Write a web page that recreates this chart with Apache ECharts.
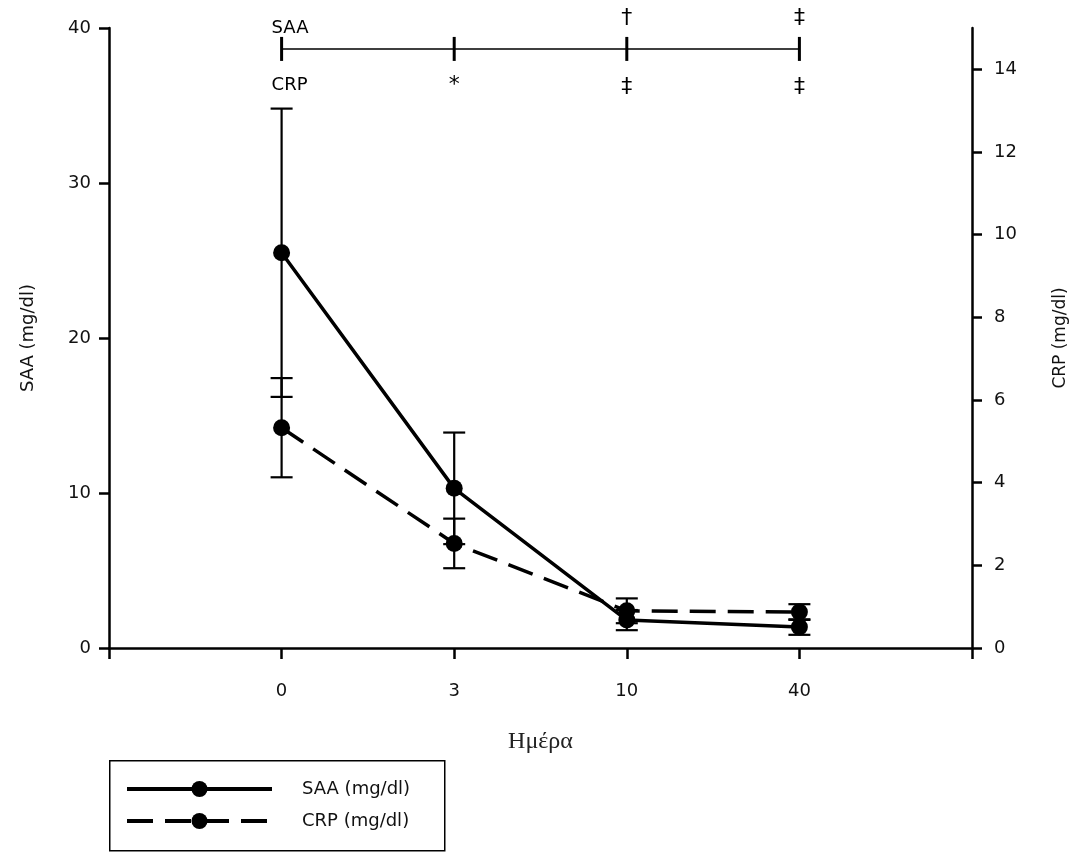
<!DOCTYPE html>
<html>
<head>
<meta charset="utf-8">
<script src="https://cdn.jsdelivr.net/npm/echarts@6/dist/echarts.min.js"></script>
<style>html,body{margin:0;padding:0;background:#fff;}#c{width:1079px;height:852px;}</style>
</head>
<body>
<div id="c"></div>
<script>
// ---- data ----
var dayLabels = ['0', '3', '10', '40'];
var dayPos = [1, 2, 3, 4];
var saaMean = [25.5, 10.3, 1.8, 1.35];
var saaSD = [9.3, 3.6, 0.65, 0.5];
var crpMean = [5.33, 2.53, 0.9, 0.87];
var crpSD = [1.2, 0.6, 0.3, 0.19];
// significance annotations (SAA-axis units)
var sigLineLevel = 38.65;
var annotX = [1, 1, 2, 3, 3, 4, 4];
var annotY = [40.0, 36.3, 36.3, 40.6, 36.2, 40.6, 36.2];
var annotText = ['SAA', 'CRP', '*', '\u2020', '\u2021', '\u2021', '\u2021'];
var seriesNames = ['SAA (mg/dl)', 'CRP (mg/dl)'];

var FONT = 'DejaVu Sans';

function pairs(xs, ys) { return xs.map(function (x, i) { return [x, ys[i]]; }); }
function errData(xs, m, s) { return xs.map(function (x, i) { return [x, m[i] - s[i], m[i] + s[i]]; }); }

function errRender(params, api) {
  var x = api.value(0), lo = api.value(1), hi = api.value(2);
  var p1 = api.coord([x, hi]), p2 = api.coord([x, lo]);
  var w = 11;
  var st = { stroke: '#000', lineWidth: 2.2 };
  return { type: 'group', children: [
    { type: 'line', shape: { x1: p1[0], y1: p1[1], x2: p2[0], y2: p2[1] }, style: st },
    { type: 'line', shape: { x1: p1[0] - w, y1: p1[1], x2: p1[0] + w, y2: p1[1] }, style: st },
    { type: 'line', shape: { x1: p2[0] - w, y1: p2[1], x2: p2[0] + w, y2: p2[1] }, style: st }
  ]};
}

function legendFor(name, top) {
  return {
    left: 125, top: top, orient: 'vertical', data: [name],
    itemWidth: 145, itemHeight: 20, padding: 0,
    lineStyle: { width: 4 },
    textStyle: { fontFamily: FONT, fontSize: 18, color: '#111', padding: [0, 0, 0, 25] }
  };
}

var chart = echarts.init(document.getElementById('c'));
var axisLine = { lineStyle: { color: '#000', width: 2.5 } };
var option = {
  animation: false,
  backgroundColor: '#fff',
  grid: { left: 109, right: 107, top: 28, bottom: 204 },
  graphic: [{
    type: 'rect', left: 109, top: 760, z: -1,
    shape: { width: 335, height: 90 },
    style: { fill: '#fff', stroke: '#000', lineWidth: 1.5 }
  }],
  legend: [legendFor(seriesNames[0], 780), legendFor(seriesNames[1], 812)],
  xAxis: {
    type: 'value', min: 0, max: 5, interval: 1,
    name: 'Ημέρα', nameLocation: 'middle', nameGap: 82,
    nameTextStyle: { fontFamily: 'Liberation Serif', fontSize: 24, color: '#222' },
    axisLine: axisLine,
    axisTick: { show: true, length: 11, lineStyle: { color: '#000', width: 2.5 } },
    axisLabel: { margin: 34, fontFamily: FONT, fontSize: 18, color: '#111',
      formatter: function (v) { return (v >= 1 && v <= 4) ? dayLabels[v - 1] : ''; } },
    splitLine: { show: false }
  },
  yAxis: [{
    type: 'value', min: 0, max: 40, interval: 10, position: 'left',
    name: 'SAA (mg/dl)', nameLocation: 'middle', nameGap: 72, nameRotate: 90,
    nameTextStyle: { fontFamily: FONT, fontSize: 18, color: '#111' },
    axisLine: { show: true, lineStyle: { color: '#000', width: 2.5 } },
    axisTick: { show: true, length: 10, lineStyle: { color: '#000', width: 2.5 } },
    axisLabel: { margin: 18, fontFamily: FONT, fontSize: 18, color: '#111' },
    splitLine: { show: false }
  }, {
    type: 'value', min: 0, max: 15, interval: 2, position: 'right',
    name: 'CRP (mg/dl)', nameLocation: 'middle', nameGap: 80, nameRotate: 90,
    nameTextStyle: { fontFamily: FONT, fontSize: 17, color: '#111' },
    axisLine: { show: true, lineStyle: { color: '#000', width: 2.5 } },
    axisTick: { show: true, length: 10, lineStyle: { color: '#000', width: 2.5 } },
    axisLabel: { margin: 22, fontFamily: FONT, fontSize: 18, color: '#111', showMaxLabel: false },
    splitLine: { show: false }
  }],
  series: [
    {
      name: 'SAA err', type: 'custom', yAxisIndex: 0, renderItem: errRender,
      encode: { x: 0, y: [1, 2] }, data: errData(dayPos, saaMean, saaSD), z: 2
    },
    {
      name: 'CRP err', type: 'custom', yAxisIndex: 1, renderItem: errRender,
      encode: { x: 0, y: [1, 2] }, data: errData(dayPos, crpMean, crpSD), z: 2
    },
    {
      name: seriesNames[0], type: 'line', yAxisIndex: 0, data: pairs(dayPos, saaMean),
      symbol: 'circle', symbolSize: 17,
      lineStyle: { color: '#000', width: 3.5 }, itemStyle: { color: '#000' }, z: 3
    },
    {
      name: seriesNames[1], type: 'line', yAxisIndex: 1, data: pairs(dayPos, crpMean),
      symbol: 'circle', symbolSize: 17,
      lineStyle: { color: '#000', width: 3.5, type: [26, 12] }, itemStyle: { color: '#000' }, z: 3
    },
    {
      name: 'sig', type: 'line', yAxisIndex: 0,
      data: dayPos.map(function (x) { return [x, sigLineLevel]; }),
      symbol: 'rect', symbolSize: [3, 24], silent: true,
      lineStyle: { color: '#000', width: 1.5 }, itemStyle: { color: '#000' }
    },
    {
      name: 'annot', type: 'scatter', yAxisIndex: 0, clip: false, silent: true,
      symbolSize: 0,
      data: annotX.map(function (x, i) {
        var t = annotText[i];
        var item = { value: [x, annotY[i], t] };
        if (t === 'SAA' || t === 'CRP') {
          item.label = { align: 'left', offset: [-10, 0], fontSize: 18, color: '#000' };
        }
        return item;
      }),
      label: {
        show: true, position: 'inside', color: '#000', opacity: 1, textBorderWidth: 0,
        fontFamily: FONT, fontSize: 22,
        formatter: function (p) { return p.value[2]; }
      }
    }
  ]
};
chart.setOption(option);
</script>
</body>
</html>
